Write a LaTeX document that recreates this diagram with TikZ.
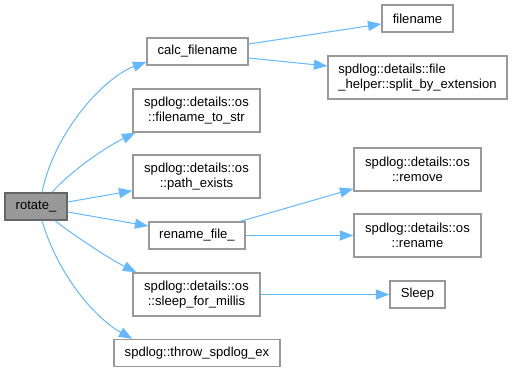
\documentclass[tikz,border=0pt]{standalone}
\usepackage{fontspec}
\setmainfont{Liberation Sans}
\usetikzlibrary{arrows.meta,calc}
\definecolor{edgeblue}{HTML}{63B8FF}
\definecolor{boxline}{HTML}{999999}
\definecolor{rootfill}{HTML}{999999}
\definecolor{rootline}{HTML}{666666}
\begin{document}
\begin{tikzpicture}[x=0.75pt,y=-0.75pt,
  fn/.style={draw=boxline,line width=1.1pt,fill=white,inner sep=0pt,align=center,
    font=\fontsize{9.8}{11.5}\selectfont,minimum height=20.25pt},
  fn2/.style={fn,minimum height=32.25pt},
  root/.style={fn,fill=rootfill,draw=rootline},
  call/.style={draw=edgeblue,line width=0.75pt,-{Triangle[length=10pt,width=7.5pt]}}]
\useasboundingbox (0,0) rectangle (513,372);

% caller
\node[root,minimum width=46.5pt] (rot) at (36,206.5) {rotate\_};

% direct callees
\node[fn,minimum width=75.75pt] (calc) at (197.5,51.5) {calc\_filename};
\node[fn2,minimum width=95.25pt] (fts) at (196.5,110.5) {spdlog::details::os\\::filename\_to\_str};
\node[fn2,minimum width=95.25pt] (pe) at (196.5,176.5) {spdlog::details::os\\::path\_exists};
\node[fn,minimum width=72pt] (rfile) at (197,235.5) {rename\_file\_};
\node[fn2,minimum width=95.25pt] (sfm) at (196.5,294.5) {spdlog::details::os\\::sleep\_for\_millis};
\node[fn,minimum width=124.5pt] (thr) at (197,353) {spdlog::throw\_spdlog\_ex};

% second level
\node[fn,minimum width=53.25pt] (fname) at (417.5,18.5) {filename};
\node[fn2,minimum width=134.25pt,align=left] (sbe) at (417.5,77.5) {spdlog::details::file\\\_helper::split\_by\_extension};
\node[fn2,minimum width=95.25pt] (rem) at (417.5,169.5) {spdlog::details::os\\::remove};
\node[fn2,minimum width=95.25pt] (ren) at (417.5,235.5) {spdlog::details::os\\::rename};
\node[fn,minimum width=41.25pt] (slp) at (417.5,294.5) {Sleep};

% calls from rotate_
\draw[call] ($(rot.north)+(6,0)$) .. controls (55,130) and (105,77) .. ($(calc.west)+(0,10.5)$);
\draw[call] ($(rot.north)+(16,0)$) .. controls (72,170) and (106,147) .. ($(fts.south west)+(3,0)$);
\draw[call] ($(rot.east)+(0,-4.5)$) -- ($(pe.south west)+(0,-8)$);
\draw[call] ($(rot.east)+(0,5.5)$) -- ($(rfile.west)+(0,-9.5)$);
\draw[call] ($(rot.south)+(19,0)$) .. controls (75,236) and (108,258) .. ($(sfm.north west)+(4,0)$);
\draw[call] ($(rot.south)+(6,0)$) .. controls (58,275) and (95,318) .. ($(thr.north west)+(19,0)$);

% calls from the callees
\draw[call] ($(calc.east)+(0,-7.5)$) -- ($(fname.west)+(0,5.5)$);
\draw[call] ($(calc.east)+(0,6.5)$) -- ($(sbe.west)+(0,-11.5)$);
\draw[call] ($(rfile.north east)+(-5,0)$) -- ($(rem.south west)+(0,-3)$);
\draw[call] (rfile.east) -- (ren.west);
\draw[call] (sfm.east) -- (slp.west);
\end{tikzpicture}
\end{document}
